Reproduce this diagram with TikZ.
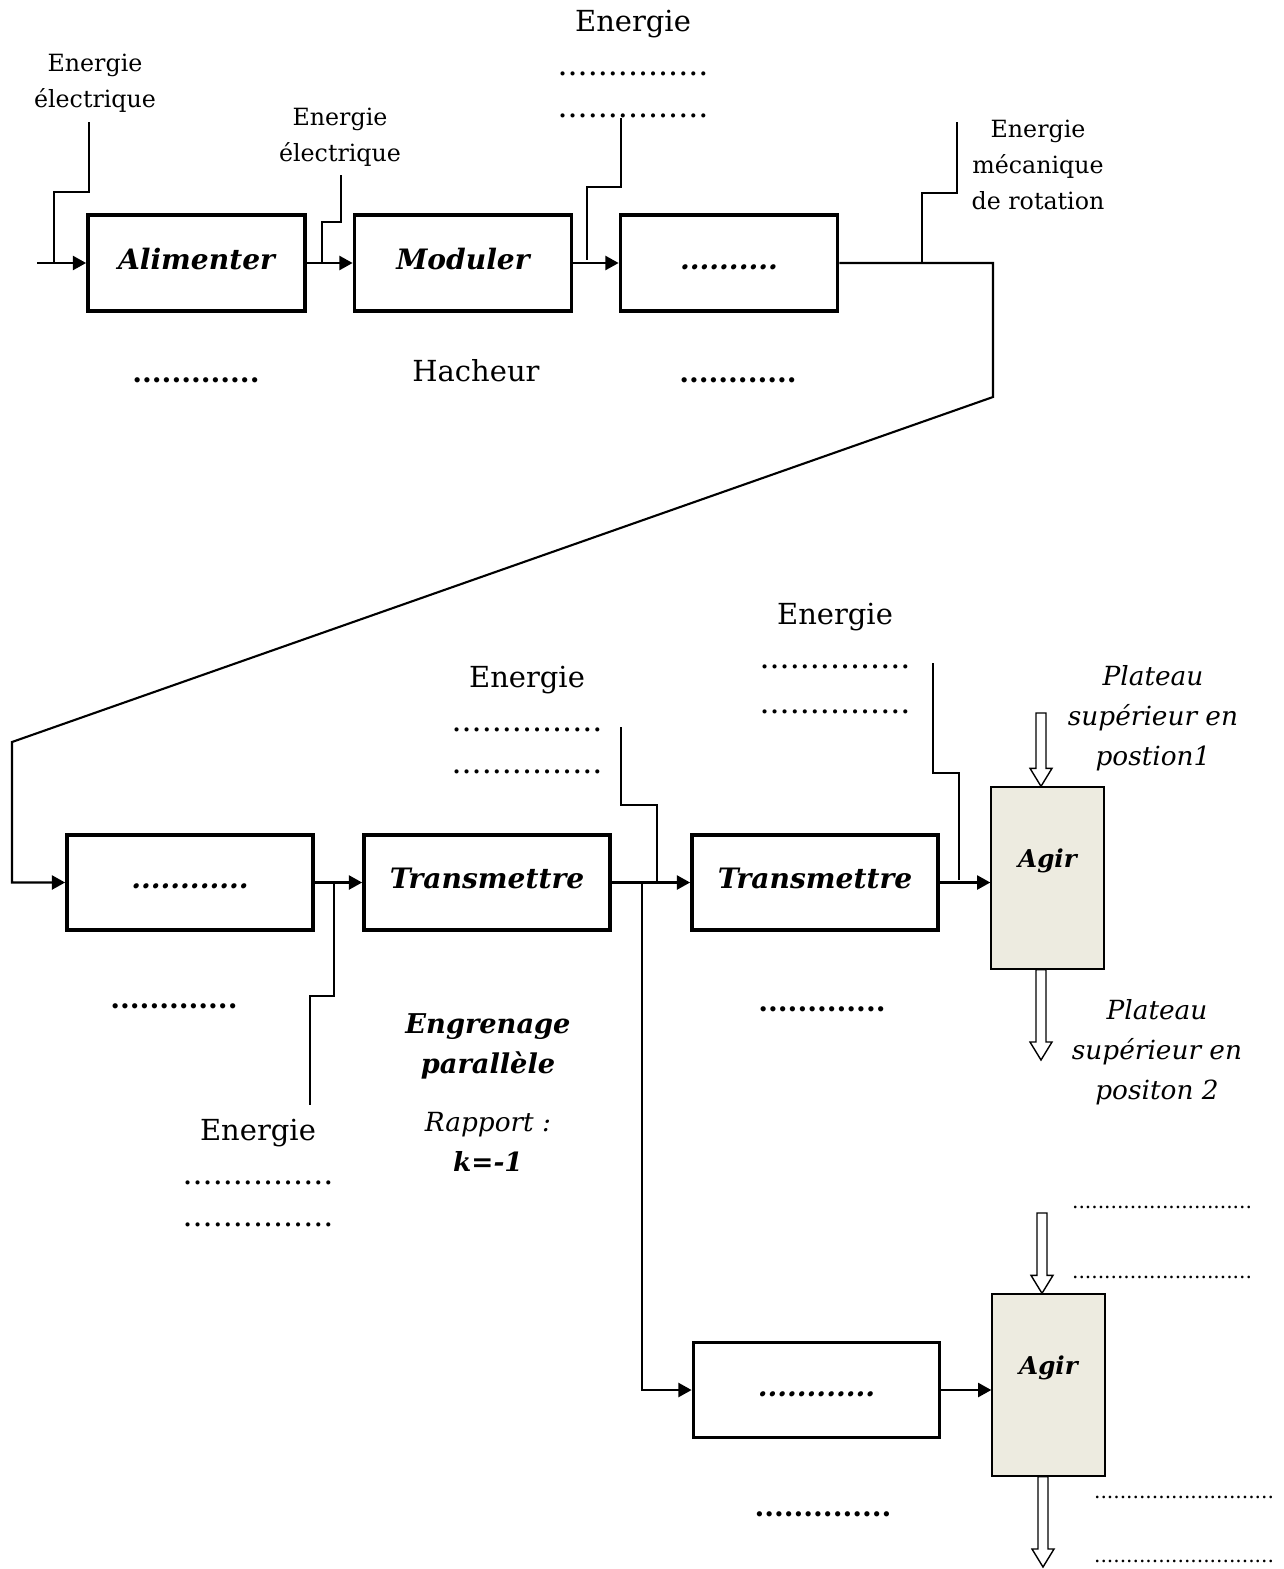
\documentclass[tikz,border=0pt]{standalone}
\usepackage{fontspec}
\setmainfont{DejaVu Serif}
\usetikzlibrary{arrows.meta,calc}

\definecolor{agirfill}{HTML}{EDEBE0}

\tikzset{
  fbox/.style={draw, line width=2.2pt, minimum width=4.34cm, minimum height=1.92cm,
    text height=1.9ex, text depth=0.5ex, font=\fontsize{16}{19}\selectfont\bfseries\itshape},
  wbox/.style={fbox, minimum width=4.92cm, minimum height=1.9cm},
  agir/.style={draw, line width=0.8pt, fill=agirfill, minimum width=2.26cm, minimum height=3.64cm},
  flow/.style={line width=1.2pt, -{Triangle[length=7.5pt,width=8pt]}},
  nrj/.style={line width=0.8pt},
  hollow/.style={line width=0.8pt, fill=white},
  small/.style={font=\fontsize{13.5}{20.4}\selectfont, align=center},
  big/.style={font=\fontsize{16.5}{20}\selectfont},
  dots/.style={font=\fontsize{18}{20}\selectfont},
  tinydots/.style={font=\fontsize{11.5}{14}\selectfont},
  bdots/.style={font=\fontsize{16}{19}\selectfont\bfseries},
  plat/.style={font=\fontsize{15}{22.7}\selectfont\itshape, align=center},
  gear/.style={font=\fontsize{15.5}{22.7}\selectfont\bfseries\itshape, align=center},
}

\newcommand{\hollowdown}[2]{%
  \draw[hollow] ($(#1)+(-5,0)$) -- ($(#2)+(-5,-18)$) -- ($(#2)+(-11,-18)$) -- (#2)
    -- ($(#2)+(11,-18)$) -- ($(#2)+(5,-18)$) -- ($(#1)+(5,0)$) -- cycle;}

\begin{document}
\begin{tikzpicture}[x=0.02cm, y=-0.02cm]
\useasboundingbox (0,0) rectangle (1284,1569);
% Boxes
\node[fbox] (a1) at (196.5,263) {Alimenter};
\node[fbox] (a2) at (463,263) {Moduler};
\node[fbox] (a3) at (729,263) {..........};
\node[wbox] (b1) at (190,882.5) {............};
\node[wbox] (b2) at (487,882.5) {Transmettre};
\node[wbox] (b3) at (815,882.5) {Transmettre};
\node[wbox] (b4) at (816.5,1390) {............};
\node[agir, label={[yshift=0.34cm, font=\fontsize{14}{17}\selectfont\bfseries\itshape]center:Agir}] (agirA) at (1047.5,878) {};
\node[agir, label={[yshift=0.34cm, font=\fontsize{14}{17}\selectfont\bfseries\itshape]center:Agir}] (agirB) at (1048.5,1385) {};
% Texts
\node[small] (e0) at (95,83) {Energie\\électrique};
\node[small] (e1) at (340,137) {Energie\\électrique};
\node[big] (e2) at (633,24) {Energie};
\node[dots] (e2a) at (633,74) {...............};
\node[dots] (e2b) at (633,116) {...............};
\node[small] (e3) at (1038,165) {Energie\\mécanique\\de rotation};
\node[bdots] (u1) at (196,380) {.............};
\node[big] (hach) at (476,371) {Hacheur};
\node[bdots] (u3) at (738,380) {............};
\node[big] (e5) at (527,680) {Energie};
\node[dots] (e5a) at (527,730) {...............};
\node[dots] (e5b) at (527,772) {...............};
\node[big] (e6) at (835,617) {Energie};
\node[dots] (e6a) at (835,667) {...............};
\node[dots] (e6b) at (835,712) {...............};
\node[big] (e4) at (258,1133) {Energie};
\node[dots] (e4a) at (258,1183) {...............};
\node[dots] (e4b) at (258,1225) {...............};
\node[bdots] (v1) at (174,1006) {.............};
\node[bdots] (v3) at (822,1009) {.............};
\node[bdots] (v4) at (823,1514) {..............};
\node[gear] (eng) at (488,1046) {Engrenage\\parallèle};
\node[plat] (rap) at (488,1142) {Rapport :\\\textbf{k=-1}};
\node[plat] (pl1) at (1153,718) {Plateau\\supérieur en\\postion1};
\node[plat] (pl2) at (1157,1052) {Plateau\\supérieur en\\positon 2};
\node[tinydots] (w1) at (1162,1207) {............................};
\node[tinydots] (w2) at (1162,1277) {............................};
\node[tinydots] (w3) at (1184,1497) {............................};
\node[tinydots] (w4) at (1184,1561) {............................};
% Coordinates
\coordinate (in) at (37,263);
\coordinate (t1) at (993,263);
\coordinate (t2) at (993,397);
\coordinate (t3) at (12,742);
\coordinate (br) at (642,883);
\coordinate (c0) at (89,122);
\coordinate (c1) at (341,175);
\coordinate (c2) at (621,118);
\coordinate (c3) at (957,122);
\coordinate (c4) at (334,884);
\coordinate (c5) at (621,727);
\coordinate (c6) at (933,663);
\coordinate (hA) at (1041,713);
\coordinate (hB) at (1041,1060);
\coordinate (hC) at (1042,1213);
\coordinate (hD) at (1043,1567);
% Lines
\draw[flow] (in) -- (a1);
\draw[flow] (a1) -- (a2);
\draw[flow] (a2) -- (a3);
\draw[flow] (a3) -- (t1) -- (t2) -- (t3) |- (b1.west);
\draw[flow] (b1) -- (b2);
\draw[flow] (b2) -- (b3);
\draw[flow] (b3.east) -- (b3.east -| agirA.west);
\draw[flow] (br) |- (b4.west);
\draw[flow] (b4.east) -- (b4.east -| agirB.west);
\draw[nrj] (c0) |- ++(-35,70) -- ++(0,71);
\draw[nrj] (c1) |- ++(-19,47) -- ++(0,41);
\draw[nrj] (c2) |- ++(-34,69) -- ++(0,73);
\draw[nrj] (c3) |- ++(-35,71) -- ++(0,70);
\draw[nrj] (c4) |- ++(-24,112) -- ++(0,109);
\draw[nrj] (c5) |- ++(36,78) -- ++(0,78);
\draw[nrj] (c6) |- ++(26,110) -- ++(0,107);
% Hollow arrows
\hollowdown{hA}{hA |- agirA.north}
\hollowdown{hA |- agirA.south}{hB}
\hollowdown{hC}{hC |- agirB.north}
\hollowdown{hD |- agirB.south}{hD}
\end{tikzpicture}
\end{document}
